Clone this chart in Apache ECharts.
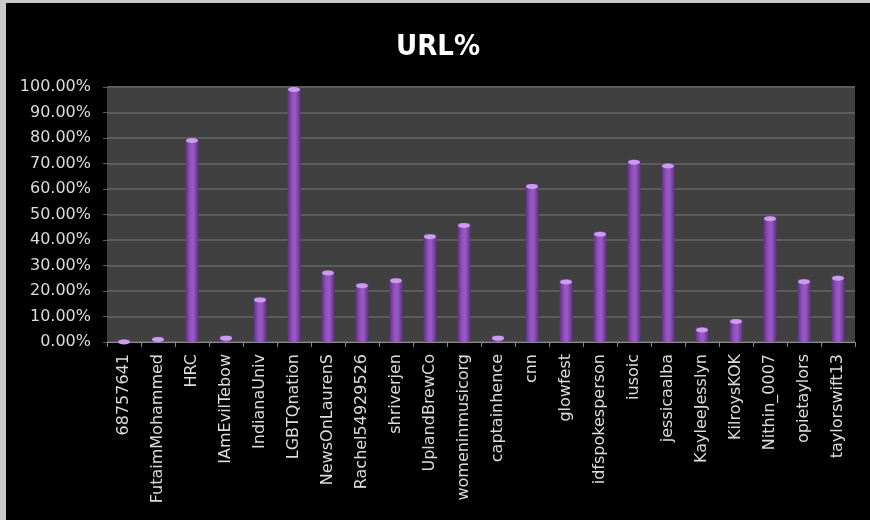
<!DOCTYPE html>
<html>
<head>
<meta charset="utf-8">
<script src="https://cdn.jsdelivr.net/npm/echarts@6/dist/echarts.min.js"></script>
<style>
  html, body { margin: 0; padding: 0; background: #c9c9c9; }
  #chart { position: absolute; left: 6px; top: 3px; width: 864px; height: 517px; background: #000; }
</style>
</head>
<body>
<div id="chart"></div>
<script>
// Share of tweets containing a URL, per account (percent)
const accounts = [
  '68757641', 'FutaimMohammed', 'HRC', 'IAmEvilTebow', 'IndianaUniv',
  'LGBTQnation', 'NewsOnLaurenS', 'Rachel54929526', 'shriverjen', 'UplandBrewCo',
  'womeninmusicorg', 'captainhence', 'cnn', 'glowfest', 'idfspokesperson',
  'iusoic', 'jessicaalba', 'KayleeJesslyn', 'KilroysKOK', 'Nithin_0007',
  'opietaylors', 'taylorswift13'
];
const urlPercent = [
  1.0, 2.0, 80.0, 2.5, 17.5,
  100.0, 28.0, 23.0, 25.0, 42.3,
  46.7, 2.5, 62.0, 24.5, 43.2,
  71.5, 70.0, 5.7, 9.0, 49.3,
  24.6, 26.0
];
const yTicks = { min: 0, max: 100, step: 10 };

const chart = echarts.init(document.getElementById('chart'));

const barFill = new echarts.graphic.LinearGradient(0, 0, 1, 0, [
  { offset: 0, color: '#5e3180' },
  { offset: 0.35, color: '#9150bd' },
  { offset: 0.6, color: '#9a5ac6' },
  { offset: 1, color: '#5e3180' }
]);

const font = 'DejaVu Sans';

chart.setOption({
  backgroundColor: '#000000',
  animation: false,
  title: {
    text: 'URL%',
    left: 'center',
    top: 25,
    textStyle: {
      color: '#ffffff', fontFamily: '"Liberation Sans Narrow", "DejaVu Sans Condensed", sans-serif',
      fontSize: 29, fontWeight: 'bold'
    }
  },
  grid: {
    left: 101, right: 15, top: 84, bottom: 178,
    show: true, backgroundColor: '#404040', borderWidth: 0
  },
  xAxis: {
    type: 'category',
    data: accounts,
    axisLine: { show: true, lineStyle: { color: '#8a8a8a', width: 1 } },
    axisTick: { show: true, alignWithLabel: false, length: 5, lineStyle: { color: '#8a8a8a' } },
    axisLabel: {
      rotate: 90, interval: 0, margin: 12,
      color: '#dcdcdc', fontFamily: font, fontSize: 16
    }
  },
  yAxis: {
    type: 'value',
    min: yTicks.min, max: yTicks.max, interval: yTicks.step,
    axisLine: { show: false },
    axisTick: { show: true, length: 4, lineStyle: { color: '#5c5c5c' } },
    splitLine: { show: true, lineStyle: { color: '#5c5c5c', width: 2 } },
    axisLabel: {
      color: '#dcdcdc', fontFamily: font, fontSize: 16, margin: 16,
      formatter: v => v.toFixed(2) + '%'
    }
  },
  series: [
    {
      type: 'bar',
      data: urlPercent,
      barWidth: 13,
      barGap: '-100%',
      itemStyle: { color: barFill }
    },
    {
      type: 'pictorialBar',
      data: urlPercent,
      symbol: 'circle',
      symbolPosition: 'end',
      symbolSize: [12, 5],
      symbolOffset: [0, 0],
      barGap: '-100%',
      z: 3,
      itemStyle: { color: '#c99cec' }
    }
  ]
});
</script>
</body>
</html>
